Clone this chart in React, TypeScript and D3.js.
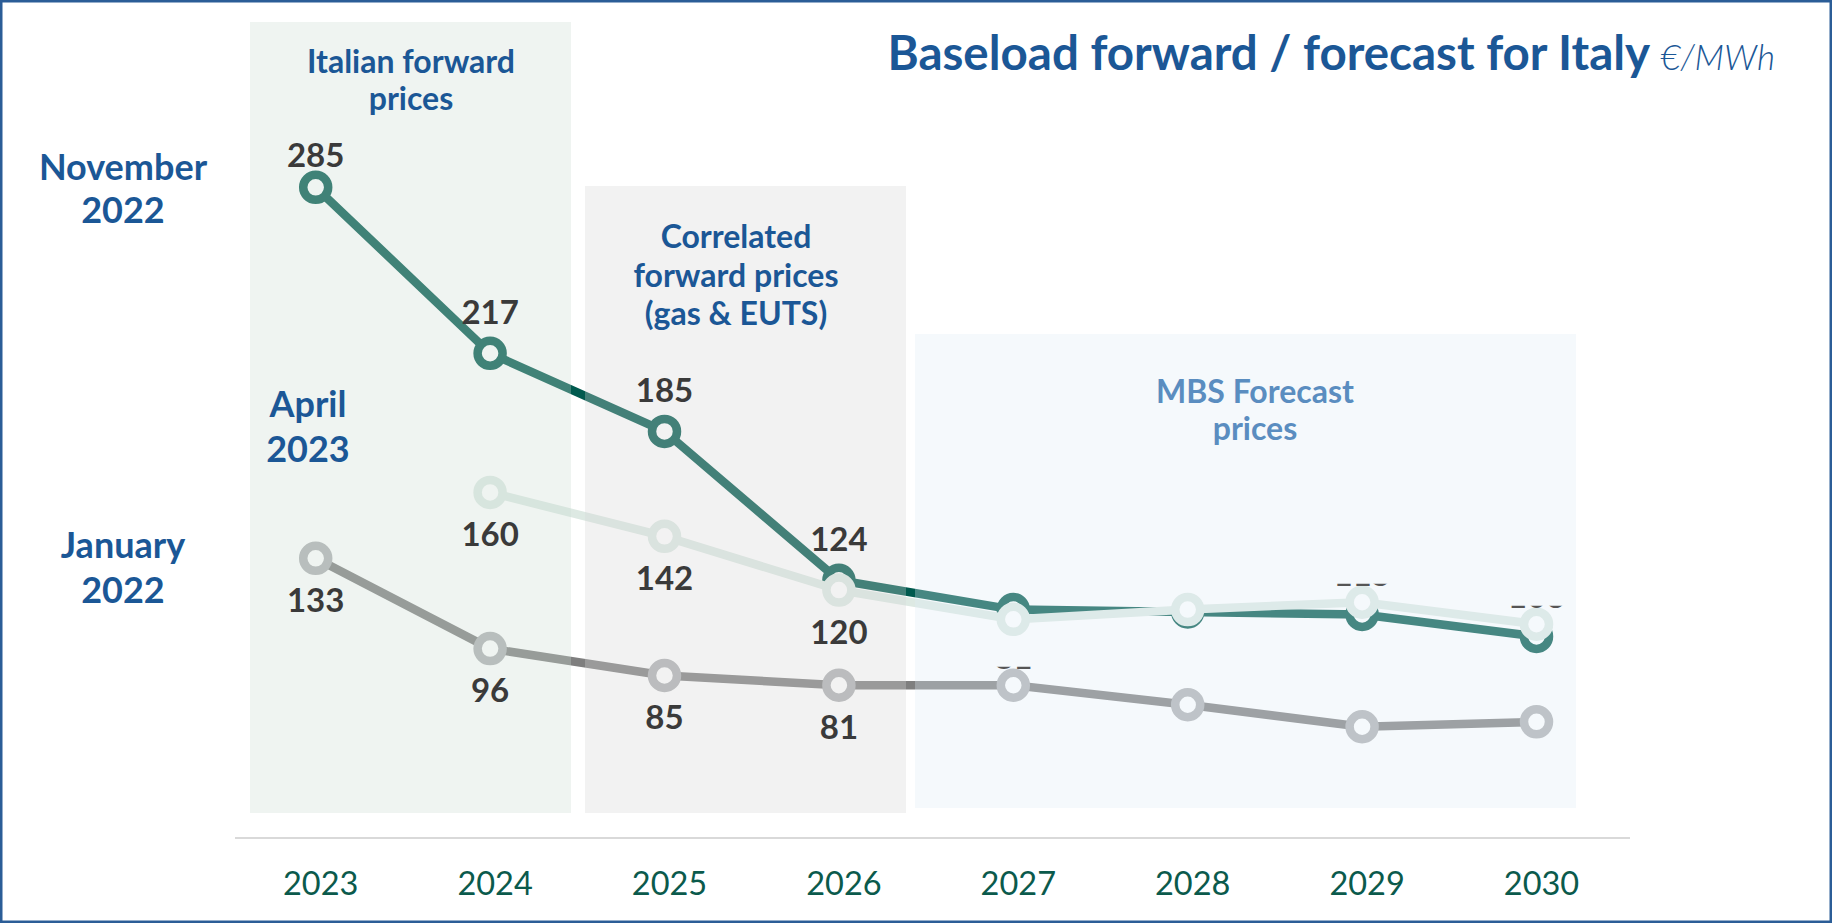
import React from "react";
import * as d3 from "d3";

// ---------- data ----------
const years = [2023, 2024, 2025, 2026, 2027, 2028, 2029, 2030];
const nov2022: (number | null)[] = [285, 217, 185, 124, 112, 111, 110, 101];
const apr2023: (number | null)[] = [null, 160, 142, 120, 108, 112, 115, 106];
const jan2022: (number | null)[] = [133, 96, 85, 81, 81, 73, 64, 66];
const labelledYears = [2023, 2024, 2025, 2026];
const tickLabels = ["2023", "2024", "2025", "2026", "2027", "2028", "2029", "2030"];
const stubLabels: [string, number][] = [
  ["apr", 2029],
  ["apr", 2030],
  ["jan", 2027],
];

const W = 1832;
const H = 923;
const FONT = "Lato, 'Open Sans', 'Noto Sans', sans-serif";

const TEAL = "#005a4e";
const LIGHT = "#dde9e3";
const GREY_LINE = "#7f7f7f";
const GREY_MARK = "#afb1b3";
const BLUE = "#1b5796";
const LABEL = "#3a3a3a";

type Series = {
  key: string;
  values: (number | null)[];
  line: string;
  marker: string;
  labelPos: "above" | "below";
};

const series: Series[] = [
  { key: "jan", values: jan2022, line: GREY_LINE, marker: GREY_MARK, labelPos: "below" },
  { key: "nov", values: nov2022, line: TEAL, marker: TEAL, labelPos: "above" },
  { key: "apr", values: apr2023, line: LIGHT, marker: LIGHT, labelPos: "below" },
];

export default function App() {
  const x = d3.scalePoint<number>().domain(years).range([315.7, 1536.5]);
  const y = d3.scaleLinear().domain([50, 300]).range([760.9, 150.7]);

  const lineGen = d3
    .line<[number, number | null]>()
    .defined((d) => d[1] != null)
    .x((d) => x(d[0]) as number)
    .y((d) => y(d[1] as number));

  const panels = [
    { x0: 250, x1: 571, y0: 22, y1: 813, fill: "rgb(204,220,210)" },
    { x0: 585, x1: 906, y0: 186, y1: 813, fill: "rgb(214,214,214)" },
    { x0: 915, x1: 1576, y0: 334, y1: 808, fill: "rgb(223,236,245)" },
  ];

  const byKey: Record<string, Series> = {};
  series.forEach((s) => (byKey[s.key] = s));

  return (
    <div style={{ position: "absolute", left: 0, top: 0 }}>
      <svg width={W} height={H} style={{ display: "block", background: "#fff" }} fontFamily={FONT}>
        <defs>
          {stubLabels.map(([k, yr], i) => {
            const s = byKey[k];
            const v = s.values[years.indexOf(yr)] as number;
            const by = y(v) - 16;
            return (
              <clipPath id={`stub${i}`} key={i}>
                <rect x={(x(yr) as number) - 40} y={by - 2.5} width={80} height={3.5} />
              </clipPath>
            );
          })}
        </defs>
        <rect x={0} y={0} width={W} height={H} fill="#fff" />

        {/* lines & markers (under translucent panels) */}
        {series.map((s) => {
          const pts: [number, number | null][] = years.map((yr, i) => [yr, s.values[i]]);
          return (
            <g key={s.key}>
              <path d={lineGen(pts) || ""} fill="none" stroke={s.line} strokeWidth={8.5} strokeLinejoin="round" />
              {pts
                .filter((p) => p[1] != null)
                .map((p) => (
                  <circle
                    key={p[0]}
                    cx={x(p[0]) as number}
                    cy={y(p[1] as number)}
                    r={12.5}
                    fill="#fff"
                    stroke={s.marker}
                    strokeWidth={8.5}
                  />
                ))}
            </g>
          );
        })}

        {/* translucent panels */}
        {panels.map((p, i) => (
          <rect key={i} x={p.x0} y={p.y0} width={p.x1 - p.x0} height={p.y1 - p.y0} fill={p.fill} fillOpacity={0.315} />
        ))}

        {/* axis */}
        <line x1={235} x2={1630} y1={838} y2={838} stroke="#d9d9d9" strokeWidth={2} />
        {years.map((yr, i) => (
          <text key={yr} x={(x(yr) as number) + 5} y={895} textAnchor="middle" fontSize={32.5} fill="#0b5a4c">
            {tickLabels[i]}
          </text>
        ))}

        {/* data labels */}
        {series.map((s) =>
          years.map((yr, i) => {
            const v = s.values[i];
            if (v == null || !labelledYears.includes(yr)) return null;
            const cy = y(v);
            const gapAbove = i === 0 ? 20.6 : 29;
            const by = s.labelPos === "above" ? cy - gapAbove : cy + 53.5;
            return (
              <text key={s.key + yr} x={x(yr) as number} y={by} textAnchor="middle" fontSize={33} fontWeight={700} fill={LABEL}>
                {v}
              </text>
            );
          })
        )}
        {stubLabels.map(([k, yr], i) => {
          const s = byKey[k];
          const v = s.values[years.indexOf(yr)] as number;
          return (
            <text
              key={"stub" + i}
              clipPath={`url(#stub${i})`}
              x={x(yr) as number}
              y={y(v) - 16}
              textAnchor="middle"
              fontSize={33}
              fontWeight={700}
              fill="#555"
            >
              {v}
            </text>
          );
        })}

        {/* panel titles */}
        <g fontWeight={700} fontSize={32} textAnchor="middle">
          <text x={411} y={73} fill={BLUE}>Italian forward</text>
          <text x={411} y={110} fill={BLUE}>prices</text>
          <text x={736} y={248} fill={BLUE}>Correlated</text>
          <text x={736} y={287} fill={BLUE}>forward prices</text>
          <text x={736} y={325} fill={BLUE}>(gas &amp; EUTS)</text>
          <text x={1255} y={403} fill="#5a8dc0">MBS Forecast</text>
          <text x={1255} y={440} fill="#5a8dc0">prices</text>
        </g>

        {/* series names */}
        <g fontWeight={700} fontSize={36} textAnchor="middle" fill={BLUE}>
          <text x={123} y={180}>November</text>
          <text x={123} y={223}>2022</text>
          <text x={308} y={417}>April</text>
          <text x={308} y={462}>2023</text>
          <text x={123} y={558}>January</text>
          <text x={123} y={603}>2022</text>
        </g>

        {/* title */}
        <text x={1775} y={70} textAnchor="end" fill={BLUE}>
          <tspan fontWeight={700} fontSize={47.5}>Baseload forward / forecast for Italy</tspan>
          <tspan fontStyle="italic" fontWeight={300} fontSize={35} dx={10}>€/MWh</tspan>
        </text>

        {/* frame */}
        <rect x={1.25} y={1.25} width={W - 2.5} height={H - 2.5} fill="none" stroke="#2b5d97" strokeWidth={2.5} />
      </svg>
    </div>
  );
}
